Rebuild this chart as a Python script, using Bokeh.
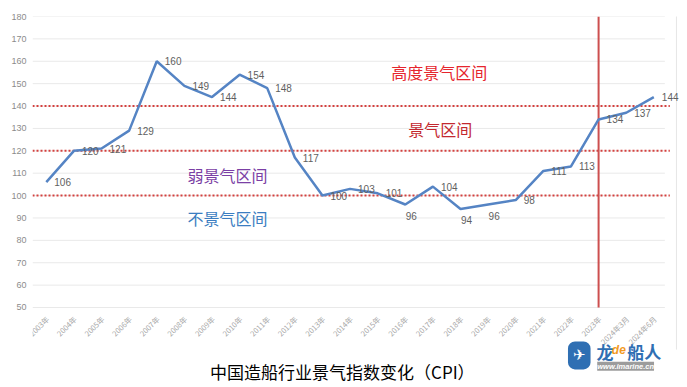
import math
from bokeh.plotting import figure
from bokeh.models import ColumnDataSource, Label, Range1d
from bokeh.embed import file_html
from bokeh.resources import INLINE

categories = ["2003年", "2004年", "2005年", "2006年", "2007年", "2008年", "2009年",
              "2010年", "2011年", "2012年", "2013年", "2014年", "2015年", "2016年",
              "2017年", "2018年", "2019年", "2020年", "2021年", "2022年", "2023年",
              "2024年3月", "2024年6月"]
cpi_values = [106, 120, 121, 129, 160, 149, 144, 154, 148, 117, 100, 103, 101, 96,
              104, 94, 96, 98, 111, 113, 134, 137, 144]
threshold_levels = [100, 120, 140]
y_ticks = list(range(50, 190, 10))
marker_category = "2023年"
zone_labels = ["高度景气区间", "景气区间", "弱景气区间", "不景气区间"]
title_text = "中国造船行业景气指数变化（CPI）"

# label placement per point (style only)
label_place = ["right"] * len(categories)
for c in ["2016年", "2018年", "2019年"]:
    label_place[categories.index(c)] = "below"

CJK = "Noto Sans CJK SC"
LAT = "Liberation Sans"

n = len(categories)
idx = list(range(n))
y_min, y_max = 50, 180
X0, X1 = -0.5, n - 0.5 + 0.43
Y0 = 15.6

p = figure(width=679, height=384, x_range=Range1d(X0, X1), y_range=Range1d(Y0, y_max),
           output_backend="svg", toolbar_location=None, x_axis_location=None,
           min_border_left=32, min_border_right=0, min_border_top=16, min_border_bottom=0)
p.outline_line_color = None
p.background_fill_color = "white"
p.border_fill_color = "white"
p.xgrid.grid_line_color = None
p.ygrid.grid_line_color = None

p.yaxis.ticker = y_ticks
p.yaxis.axis_line_color = None
p.yaxis.major_tick_line_color = None
p.yaxis.minor_tick_line_color = None
p.yaxis.major_tick_out = 0
p.yaxis.major_tick_in = 0
p.yaxis.major_label_text_color = "#8c8c8c"
p.yaxis.major_label_text_font_size = "9px"
p.yaxis.major_label_text_font = LAT
p.yaxis.major_label_standoff = 6

# horizontal grid lines
p.segment(x0=[X0] * len(y_ticks), x1=[n - 0.5 - 0.1] * len(y_ticks), y0=y_ticks, y1=y_ticks,
          line_color="#e9e9e9", line_width=1)

# light border line at right edge
p.segment(x0=[n - 0.5 + 0.32], x1=[n - 0.5 + 0.32], y0=[y_max + 3], y1=[31.2],
          line_color="#e6e6e6", line_width=1)

# dotted threshold lines
p.segment(x0=[X0] * len(threshold_levels), x1=[n - 0.5 + 0.08] * len(threshold_levels),
          y0=threshold_levels, y1=threshold_levels,
          line_color="#d4413f", line_width=2, line_dash="2 2")

# vertical marker at 2023
mi = categories.index(marker_category)
p.segment(x0=[mi], x1=[mi], y0=[y_min], y1=[y_max], line_color="#cd4f4f", line_width=2)

# x category labels (rotated)
xl = ColumnDataSource(dict(x=idx, y=[y_min] * n, t=categories))
p.text("x", "y", text="t", source=xl, angle=math.pi / 4, text_align="right",
       text_baseline="middle", x_offset=1, y_offset=10, text_color="#a6a6a6",
       text_font_size="7.5px", text_font={"value": CJK})

# main line
src = ColumnDataSource(dict(x=idx, y=cpi_values))
p.line("x", "y", source=src, line_color="#5584c4", line_width=2.5)

# data labels
r_i = [i for i in idx if label_place[i] == "right"]
b_i = [i for i in idx if label_place[i] == "below"]
rs = ColumnDataSource(dict(x=r_i, y=[cpi_values[i] for i in r_i],
                           t=[str(cpi_values[i]) for i in r_i]))
bs = ColumnDataSource(dict(x=b_i, y=[cpi_values[i] for i in b_i],
                           t=[str(cpi_values[i]) for i in b_i]))
p.text("x", "y", text="t", source=rs, x_offset=8, y_offset=0, text_align="left",
       text_baseline="middle", text_color="#5f5f5f", text_font_size="10px",
       text_font={"value": LAT})
p.text("x", "y", text="t", source=bs, x_offset=6, y_offset=11, text_align="center",
       text_baseline="middle", text_color="#5f5f5f", text_font_size="10px",
       text_font={"value": LAT})

# zone annotations
zone_colors = ["#e6252d", "#c3282f", "#7b3fa5", "#3b7dc1"]
zone_x = [14.23, 14.27, 6.56, 6.56]
zone_y = [155.4, 129.6, 109.4, 89.9]
for t, c, xx, yy in zip(zone_labels, zone_colors, zone_x, zone_y):
    p.add_layout(Label(x=xx, y=yy, text=t, text_color=c, text_font=CJK,
                       text_font_size="16px", text_align="center", text_baseline="middle"))

# title below chart
p.add_layout(Label(x=10.72, y=21.63, text=title_text, text_color="#000000", text_font=CJK,
                   text_font_size="17px", text_align="center", text_baseline="middle"))

# logo approximation
p.add_layout(Label(x=19.3, y=28.6, text="✈", text_color="#ffffff", text_font="DejaVu Sans",
                   background_fill_color="#2f6fb3", border_radius=7, padding=5,
                   text_font_size="15px", text_align="center", text_baseline="middle"))
p.add_layout(Label(x=19.92, y=30.3, text="龙", text_color="#2f6fb3", text_font=CJK,
                   text_font_size="17px", text_font_style="bold",
                   text_align="left", text_baseline="middle"))
p.add_layout(Label(x=20.48, y=30.8, text="de", text_color="#f29a1f", text_font=LAT,
                   text_font_size="12px", text_font_style="bold italic",
                   text_align="left", text_baseline="middle"))
p.add_layout(Label(x=21.04, y=30.3, text="船人", text_color="#2f6fb3", text_font=CJK,
                   text_font_size="17px", text_font_style="bold",
                   text_align="left", text_baseline="middle"))
p.add_layout(Label(x=19.95, y=23.8, text="www.imarine.cn", text_color="#ffffff",
                   background_fill_color="#9c9c9c", text_font=LAT,
                   text_font_size="7.5px", text_font_style="bold italic",
                   text_align="left", text_baseline="middle"))

open("out.html", "w").write(file_html(p, INLINE))
